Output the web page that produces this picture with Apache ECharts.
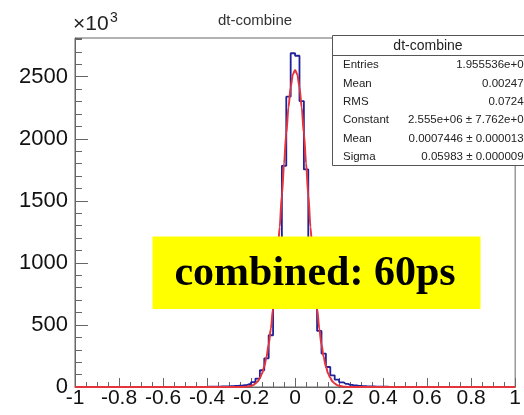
<!DOCTYPE html>
<html>
<head>
<meta charset="utf-8">
<script src="https://cdn.jsdelivr.net/npm/echarts@6/dist/echarts.min.js"></script>
<style>
  html, body { margin: 0; padding: 0; background: #fff; }
  #chart { width: 524px; height: 415px; }
</style>
</head>
<body>
<div id="chart"></div>
<script>
// Histogram of dt (combined), 100 bins of width 0.02 over [-1, 1]; counts in units of 10^3
const binLow = -1;
const binWidth = 0.02;
const histCounts = [
  0.1, 0.1, 0.1, 0.1, 0.1, 0.1, 0.1, 0.1, 0.1, 0.1,
  0.2, 0.2, 0.2, 0.2, 0.2, 0.3, 0.3, 0.3, 0.3, 0.4,
  0.4, 0.5, 0.5, 0.6, 0.7, 0.8, 0.9, 1.1, 1.3, 1.6,
  2, 2.5, 3, 4, 5, 6, 8, 11, 15, 22,
  40, 68, 135, 231, 417, 740, 1160, 1782, 2339, 2689,
  2669, 2304, 1753, 1180, 780, 452, 269, 161, 94, 60,
  38, 25, 17, 12, 9, 7, 5, 4, 3, 2.5,
  2, 1.6, 1.3, 1.1, 0.9, 0.8, 0.7, 0.6, 0.5, 0.5,
  0.4, 0.4, 0.3, 0.3, 0.3, 0.2, 0.2, 0.2, 0.2, 0.2,
  0.1, 0.1, 0.1, 0.1, 0.1, 0.1, 0.1, 0.1, 0.1, 0.1
];

// Gaussian fit curve, sampled (x, value in 10^3)
const fitX = [-1, -0.5, -0.3, -0.26, -0.24, -0.22, -0.2, -0.19, -0.18, -0.17, -0.16, -0.15, -0.14, -0.13, -0.12, -0.11, -0.1,
  -0.09, -0.08, -0.07, -0.06, -0.05, -0.04, -0.03, -0.02, -0.01, 0,
  0.01, 0.02, 0.03, 0.04, 0.05, 0.06, 0.07, 0.08, 0.09, 0.1,
  0.11, 0.12, 0.13, 0.14, 0.15, 0.16, 0.17, 0.18, 0.19, 0.2, 0.22, 0.24, 0.26, 0.3, 0.5, 1];
const fitY = [0, 0, 0, 0, 1, 3, 10, 17, 28, 45, 72, 110, 165, 241, 342, 471, 632,
  824, 1045, 1289, 1545, 1802, 2043, 2253, 2416, 2520, 2555,
  2520, 2416, 2253, 2043, 1802, 1545, 1289, 1045, 824, 632,
  471, 342, 241, 165, 110, 72, 45, 28, 17, 10, 3, 1, 0, 0, 0, 0];

// Axis ranges
const xMin = -1, xMax = 1, xStep = 0.2;
const yMin = 0, yMax = 2812, yStep = 500, yMinorStep = 100;

// Statistics box rows
const statsTitle = 'dt-combine';
const statsNames = ['Entries', 'Mean', 'RMS', 'Constant', 'Mean', 'Sigma'];
const statsValues = ['1.955536e+07', '0.002479', '0.07244', '2.555e+06 \u00b1 7.762e+02', '0.0007446 \u00b1 0.0000137', '0.05983 \u00b1 0.0000099'];

const histData = histCounts.map((v, i) => [binLow + (i + 0.5) * binWidth, v]);
const fitData = fitX.map((x, i) => [x, fitY[i]]);

const FONT = '"Liberation Sans", Arial, sans-serif';
const chart = echarts.init(document.getElementById('chart'), null, { renderer: 'canvas' });

const statsGraphics = [];
const boxX = 332.5, boxY = 35.5, boxW = 200, boxH = 130;
statsGraphics.push({
  type: 'rect', z: 100,
  shape: { x: boxX, y: boxY, width: boxW, height: boxH },
  style: { fill: '#fff', stroke: '#555', lineWidth: 1 }
});
statsGraphics.push({
  type: 'line', z: 101,
  shape: { x1: boxX, y1: 55.5, x2: boxX + boxW, y2: 55.5 },
  style: { stroke: '#555', lineWidth: 1 }
});
statsGraphics.push({
  type: 'text', z: 102,
  style: { text: statsTitle, x: 428, y: 46, font: '14px ' + FONT, fill: '#222',
           align: 'center', verticalAlign: 'middle', textAlign: 'center', textVerticalAlign: 'middle' }
});
statsNames.forEach((name, i) => {
  const cy = 65 + i * 18.35;
  statsGraphics.push({
    type: 'text', z: 102,
    style: { text: name, x: 343, y: cy, font: '11.5px ' + FONT, fill: '#222',
             align: 'left', verticalAlign: 'middle', textAlign: 'left', textVerticalAlign: 'middle' }
  });
  statsGraphics.push({
    type: 'text', z: 102,
    style: { text: statsValues[i], x: 530, y: cy, font: '11.5px ' + FONT, fill: '#222',
             align: 'right', verticalAlign: 'middle', textAlign: 'right', textVerticalAlign: 'middle' }
  });
});

const option = {
  animation: false,
  backgroundColor: '#fff',
  grid: { left: 75, right: 2, top: 38, bottom: 28, show: true, borderColor: '#666', borderWidth: 1, backgroundColor: 'transparent' },
  xAxis: {
    type: 'value', min: xMin, max: xMax, interval: xStep,
    axisLine: { show: true, onZero: false, lineStyle: { color: '#666', width: 1 } },
    axisTick: { show: true, inside: true, length: 9, lineStyle: { color: '#666' } },
    minorTick: { show: true, splitNumber: 4, length: 5, lineStyle: { color: '#666' } },
    splitLine: { show: false },
    axisLabel: {
      margin: 1, fontSize: 21, fontFamily: FONT, color: '#111',
      formatter: v => String(Number(v.toFixed(1)))
    }
  },
  yAxis: [
    {
      type: 'value', min: yMin, max: yMax, interval: yStep, position: 'left',
      axisLine: { show: true, onZero: false, lineStyle: { color: '#666', width: 1 } },
      axisTick: { show: true, inside: true, length: 13, lineStyle: { color: '#666' } },
      splitLine: { show: false },
      axisLabel: { margin: 7, fontSize: 22, fontFamily: FONT, color: '#111', showMaxLabel: false,
                   formatter: v => String(Math.round(v)) }
    },
    {
      type: 'value', min: yMin, max: yMax, interval: yMinorStep, position: 'left', offset: 0,
      axisLine: { show: false, onZero: false },
      axisTick: { show: true, inside: true, length: 7, lineStyle: { color: '#666' } },
      splitLine: { show: false },
      axisLabel: { show: false }
    }
  ],
  series: [
    {
      type: 'line', name: 'dt-combine', data: histData, step: 'middle',
      showSymbol: false, symbol: 'none', z: 3,
      lineStyle: { color: '#20209a', width: 1.8 }
    },
    {
      type: 'line', name: 'gaus', data: fitData, smooth: 0.3, smoothMonotone: 'x',
      showSymbol: false, symbol: 'none', z: 4,
      lineStyle: { color: '#e4343c', width: 2 }
    }
  ],
  graphic: [
    {
      type: 'text', z: 100,
      style: { text: 'dt-combine', x: 255, y: 21, font: '15px ' + FONT, fill: '#333',
               align: 'center', verticalAlign: 'middle', textAlign: 'center', textVerticalAlign: 'middle' }
    },
    {
      type: 'text', z: 100,
      style: { text: '\u00d710', x: 73, y: 35, font: '21px ' + FONT, fill: '#222',
               align: 'left', verticalAlign: 'bottom', textAlign: 'left', textVerticalAlign: 'bottom' }
    },
    {
      type: 'text', z: 100,
      style: { text: '3', x: 110, y: 11, font: '14px ' + FONT, fill: '#222',
               align: 'left', verticalAlign: 'top', textAlign: 'left', textVerticalAlign: 'top' }
    },
    ...statsGraphics,
    {
      type: 'rect', z: 110,
      shape: { x: 152.5, y: 236.5, width: 328, height: 72.5 },
      style: { fill: '#ffff00' }
    },
    {
      type: 'text', z: 111,
      style: { text: 'combined: 60ps', x: 315, y: 274, font: 'bold 42px "Liberation Serif", "Times New Roman", serif', fill: '#000',
               align: 'center', verticalAlign: 'middle', textAlign: 'center', textVerticalAlign: 'middle' }
    }
  ]
};

chart.setOption(option);
</script>
</body>
</html>
